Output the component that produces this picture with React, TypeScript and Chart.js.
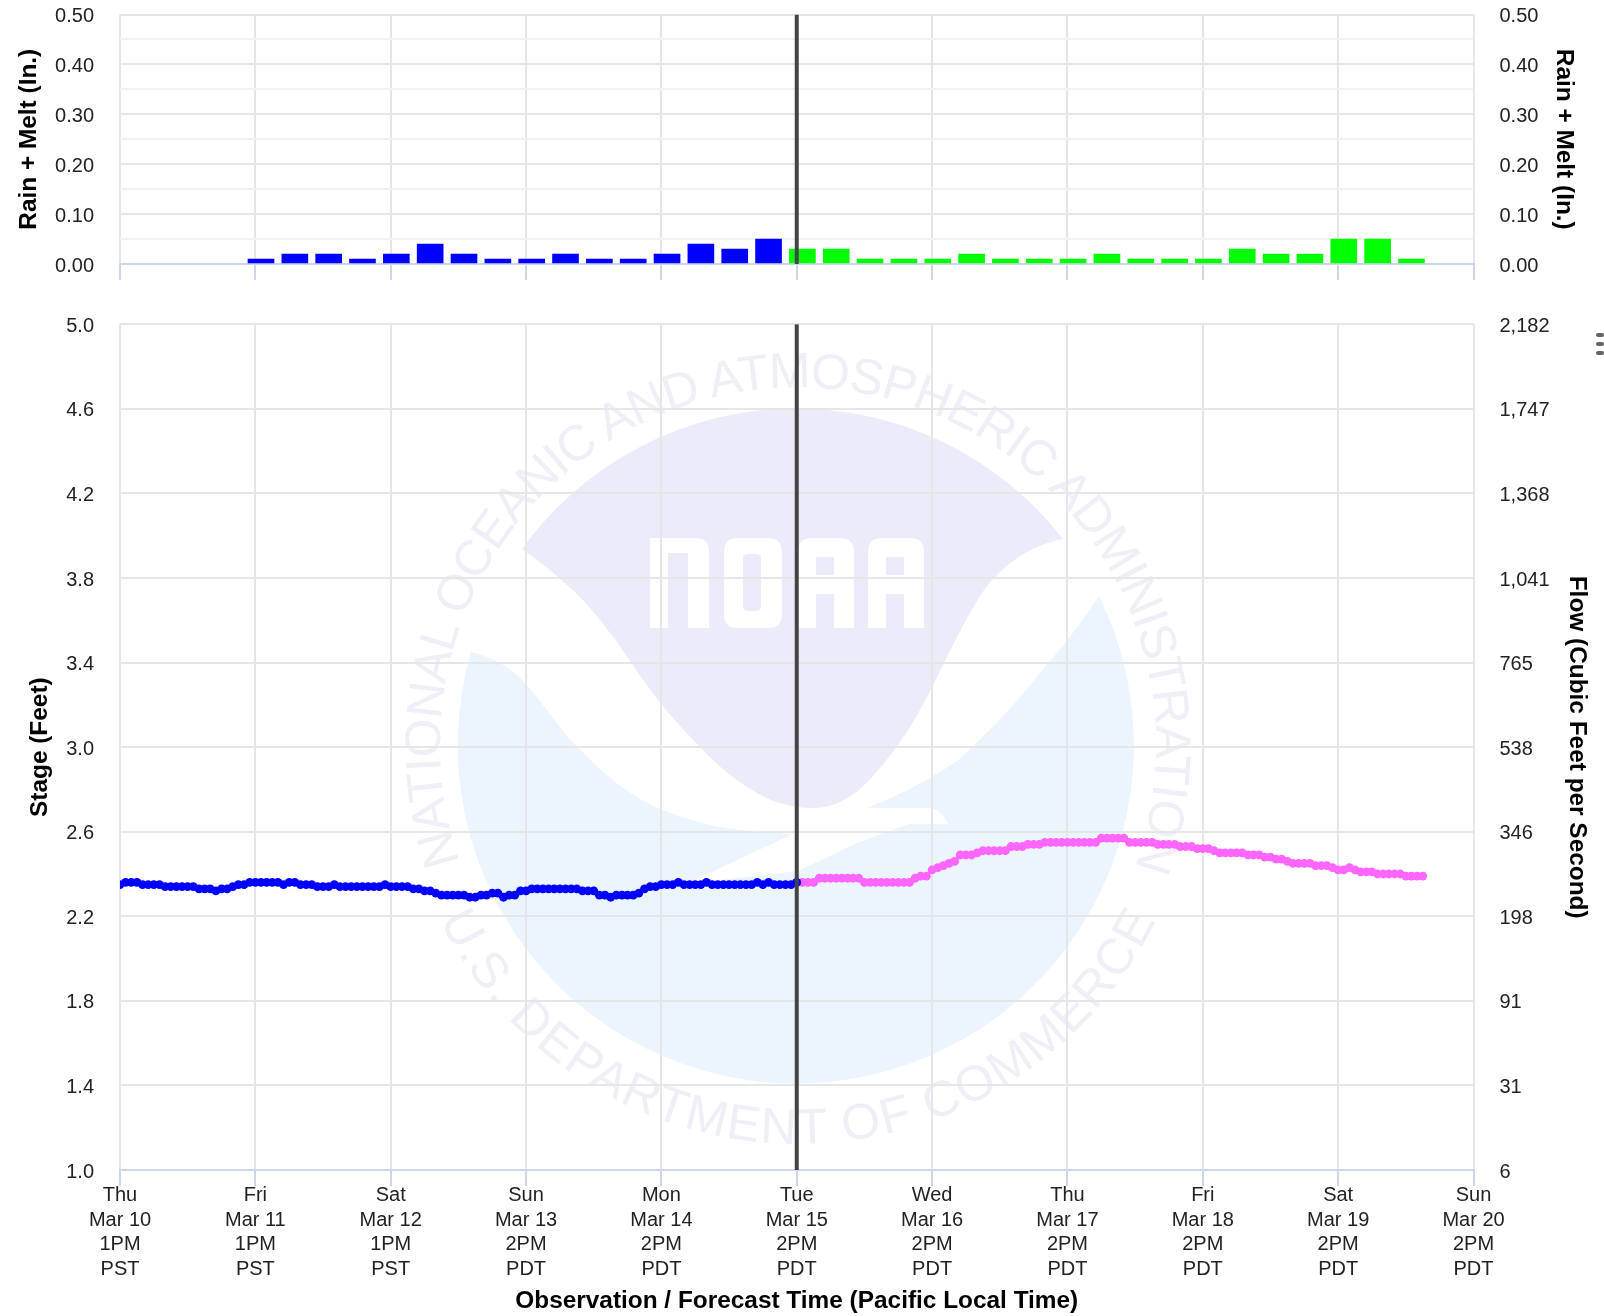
import React, { useEffect, useRef } from "react";
import { Chart, registerables } from "chart.js";

Chart.register(...registerables);

const FONT = "'Liberation Sans', Arial, sans-serif";

const dayLabels = [
  ["Thu", "Mar 10", "1PM", "PST"],
  ["Fri", "Mar 11", "1PM", "PST"],
  ["Sat", "Mar 12", "1PM", "PST"],
  ["Sun", "Mar 13", "2PM", "PDT"],
  ["Mon", "Mar 14", "2PM", "PDT"],
  ["Tue", "Mar 15", "2PM", "PDT"],
  ["Wed", "Mar 16", "2PM", "PDT"],
  ["Thu", "Mar 17", "2PM", "PDT"],
  ["Fri", "Mar 18", "2PM", "PDT"],
  ["Sat", "Mar 19", "2PM", "PDT"],
  ["Sun", "Mar 20", "2PM", "PDT"],
];
const flowLabels = ["6", "31", "91", "198", "346", "538", "765", "1,041", "1,368", "1,747", "2,182"];

const nowHour = 120;

const observedRainStart = 25;
const observedRain = [0.01, 0.02, 0.02, 0.01, 0.02, 0.04, 0.02, 0.01, 0.01, 0.02, 0.01, 0.01, 0.02, 0.04, 0.03, 0.05];
const forecastRainStart = 121;
const forecastRain = [0.03, 0.03, 0.01, 0.01, 0.01, 0.02, 0.01, 0.01, 0.01, 0.02, 0.01, 0.01, 0.01, 0.03, 0.02, 0.02, 0.05, 0.05, 0.01];

const observedStage = [
  2.35, 2.36, 2.36, 2.36, 2.35, 2.35, 2.35, 2.35, 2.34, 2.34,
  2.34, 2.34, 2.34, 2.34, 2.33, 2.33, 2.33, 2.32, 2.33, 2.33,
  2.34, 2.35, 2.35, 2.36, 2.36, 2.36, 2.36, 2.36, 2.36, 2.35,
  2.36, 2.36, 2.35, 2.35, 2.35, 2.34, 2.34, 2.34, 2.35, 2.34,
  2.34, 2.34, 2.34, 2.34, 2.34, 2.34, 2.34, 2.35, 2.34, 2.34,
  2.34, 2.34, 2.33, 2.33, 2.32, 2.32, 2.31, 2.30, 2.30, 2.30,
  2.30, 2.30, 2.29, 2.29, 2.30, 2.30, 2.31, 2.31, 2.29, 2.30,
  2.30, 2.32, 2.32, 2.33, 2.33, 2.33, 2.33, 2.33, 2.33, 2.33,
  2.33, 2.33, 2.32, 2.32, 2.32, 2.30, 2.30, 2.29, 2.30, 2.30,
  2.30, 2.30, 2.31, 2.33, 2.34, 2.34, 2.35, 2.35, 2.35, 2.36,
  2.35, 2.35, 2.35, 2.35, 2.36, 2.35, 2.35, 2.35, 2.35, 2.35,
  2.35, 2.35, 2.35, 2.36, 2.35, 2.36, 2.35, 2.35, 2.35, 2.35,
  2.36,
];
const forecastStageStart = 120;
const forecastStage = [
  2.36, 2.36, 2.36, 2.36, 2.38, 2.38, 2.38, 2.38, 2.38, 2.38,
  2.38, 2.38, 2.36, 2.36, 2.36, 2.36, 2.36, 2.36, 2.36, 2.36,
  2.36, 2.38, 2.39, 2.39, 2.42, 2.43, 2.44, 2.45, 2.46, 2.49,
  2.49, 2.49, 2.50, 2.51, 2.51, 2.51, 2.51, 2.51, 2.53, 2.53,
  2.53, 2.54, 2.54, 2.54, 2.55, 2.55, 2.55, 2.55, 2.55, 2.55,
  2.55, 2.55, 2.55, 2.55, 2.57, 2.57, 2.57, 2.57, 2.57, 2.55,
  2.55, 2.55, 2.55, 2.55, 2.54, 2.54, 2.54, 2.54, 2.53, 2.53,
  2.53, 2.52, 2.52, 2.52, 2.51, 2.50, 2.50, 2.50, 2.50, 2.50,
  2.49, 2.49, 2.49, 2.48, 2.48, 2.47, 2.47, 2.46, 2.45, 2.45,
  2.45, 2.45, 2.44, 2.44, 2.44, 2.43, 2.42, 2.42, 2.43, 2.42,
  2.41, 2.41, 2.41, 2.40, 2.40, 2.40, 2.40, 2.40, 2.39, 2.39,
  2.39, 2.39,
];

const toPoints = (values: number[], start: number, step: number) =>
  values.map((y, i) => ({ x: start + i * step, y }));

const GRID = "#e6e6e6";
const GRID_MINOR = "#f2f2f2";
const AXIS = "#ccd6eb";
const TEXT = "#222222";
const LEFT_W = 120;
const RIGHT_W = 130.5;

const fixWidth = (w: number) => (scale: any) => {
  scale.width = w;
  scale.paddingTop = 0;
  scale.paddingBottom = 0;
};
const fixHeight = (h: number) => (scale: any) => {
  scale.height = h;
};
const tickFont = { family: FONT, size: 20, lineHeight: 1.235 };
const titleFont = { family: FONT, size: 24.4, weight: "bold" as const, lineHeight: 1.2 };

function xScale(height: number, showLabels: boolean) {
  return {
    type: "linear" as const,
    min: 0,
    max: 240,
    offset: false,
    afterFit: fixHeight(height),
    grid: {
      offset: false,
      color: GRID,
      lineWidth: 2,
      tickColor: AXIS,
      tickLength: 16,
      tickWidth: 2,
      drawOnChartArea: true,
    },
    border: { color: AXIS, width: 2 },
    ticks: {
      display: showLabels,
      stepSize: 24,
      autoSkip: false,
      maxRotation: 0,
      padding: -3,
      color: TEXT,
      font: tickFont,
      callback: (_v: any, i: number) => dayLabels[i],
    },
    title: showLabels
      ? {
          display: true,
          text: "Observation / Forecast Time (Pacific Local Time)",
          color: "#000",
          font: titleFont,
          padding: { top: -2, bottom: 0 },
        }
      : { display: false },
  };
}

function yScale(opts: any) {
  return {
    type: "linear" as const,
    position: opts.position,
    min: opts.min,
    max: opts.max,
    afterFit: fixWidth(opts.position === "left" ? LEFT_W : RIGHT_W),
    grid: {
      display: opts.position === "left",
      drawTicks: false,
      color: opts.gridColor,
      lineWidth: 2,
    },
    border: { display: false },
    ticks: {
      stepSize: opts.step,
      autoSkip: false,
      padding: 26,
      labelOffset: 2,
      color: TEXT,
      font: tickFont,
      callback: opts.label,
    },
    title: {
      display: true,
      text: opts.title,
      color: "#000",
      font: titleFont,
      padding: { top: opts.titlePad, bottom: 0 },
    },
  };
}

const rainLabel = (v: any, i: number) => (i % 2 === 0 ? Number(v).toFixed(2) : "");
const rainGrid = (ctx: any) => (ctx.index % 2 === 0 ? GRID : GRID_MINOR);

function Watermark() {
  const lav = "#ebebfa";
  const blue = "#ecf5fd";
  const ring = "#eeeff7";
  const letterA =
    "M798 628 V552 Q798 538 812 538 H840 Q854 538 854 552 V628 H834 V594 H816 V628 Z M816 557 H834 V575 H816 Z";
  return (
    <svg
      width={1604}
      height={1316}
      style={{ position: "absolute", left: 0, top: 0 }}
    >
      <defs>
        <path id="ringTop" d="M459.5 862 A358 358 0 1 1 1134.4 868" fill="none" />
        <path id="ringBottom" d="M440 920 A398 398 0 0 0 1155.7 920" fill="none" />
      </defs>
      <path
        d="M522 549 A338 338 0 0 1 1063 539 C1035 544 1008 560 987 586 C973 605 962 628 951 649 C938 675 925 703 910 727 C895 750 878 773 859 790 C845 801 830 808 813 808 C790 808 772 802 757 793 C738 782 722 770 706 753 C688 735 672 718 655 696 C640 677 628 657 614 638 C600 620 585 600 568 586 C553 572 538 560 522 549 Z"
        fill={lav}
      />
      <path
        d="M471 652 A338 338 0 1 0 1099 596 C1080 625 1060 650 1038 675 C1015 705 990 730 961 758 C930 780 900 795 867 808 L931 808 C940 810 945 817 948 824 L910 824 L859 842 L798 871 L686 884 L793 834 L732 829 C710 826 690 820 670 813 C650 805 635 797 619 785 C600 770 585 755 568 737 C550 715 535 692 517 675 C503 663 488 656 471 652 Z"
        fill={blue}
      />
      <g fill="#ffffff" fillRule="evenodd">
        <path d="M650 538 H695 Q709 538 709 552 V628 H688 V553 H668 V628 H650 Z" />
        <path d="M738 538 H768 Q782 538 782 552 V614 Q782 628 768 628 H738 Q724 628 724 614 V552 Q724 538 738 538 Z M748 554 Q743 554 743 559 V606 Q743 611 748 611 H756 Q761 611 761 606 V559 Q761 554 756 554 Z" />
        <path d={letterA} />
        <path d={letterA} transform="translate(70 0)" />
      </g>
      <g fill={ring} fontFamily={FONT} fontSize={50}>
        <text>
          <textPath href="#ringTop" textLength={1368} lengthAdjust="spacing">
            NATIONAL OCEANIC AND ATMOSPHERIC ADMINISTRATION
          </textPath>
        </text>
        <text>
          <textPath href="#ringBottom" textLength={889} lengthAdjust="spacing">
            U.S. DEPARTMENT OF COMMERCE
          </textPath>
        </text>
      </g>
      <g fill="#666666">
        <rect x={1596} y={333} width={8} height={4} rx={2} />
        <rect x={1596} y={342} width={8} height={4} rx={2} />
        <rect x={1596} y={351} width={8} height={4} rx={2} />
      </g>
    </svg>
  );
}

export default function App() {
  const topRef = useRef<HTMLCanvasElement>(null);
  const mainRef = useRef<HTMLCanvasElement>(null);

  useEffect(() => {
    const marker = (min: number, max: number) => ({
      type: "line" as const,
      data: [
        { x: nowHour, y: min },
        { x: nowHour, y: max },
      ],
      yAxisID: "y",
      borderColor: "#444444",
      borderWidth: 4,
      pointRadius: 0,
      order: 0,
    });

    const top = new Chart(topRef.current!, {
      type: "bar",
      data: {
        datasets: [
          marker(0, 0.5),
          {
            type: "bar" as const,
            data: toPoints(observedRain, observedRainStart, 6),
            backgroundColor: "#0000ff",
            barThickness: 26,
            grouped: false,
            yAxisID: "y",
            order: 1,
          },
          {
            type: "bar" as const,
            data: toPoints(forecastRain, forecastRainStart, 6),
            backgroundColor: "#00ff00",
            barThickness: 26,
            grouped: false,
            yAxisID: "y",
            order: 1,
          },
        ] as any,
      },
      options: {
        responsive: false,
        animation: false,
        layout: { padding: { top: 14.5, left: 0, right: 0, bottom: 0 } },
        plugins: { legend: { display: false }, tooltip: { enabled: false } },
        scales: {
          x: xScale(36, false),
          y: yScale({
            position: "left",
            min: 0,
            max: 0.5,
            step: 0.05,
            label: rainLabel,
            gridColor: rainGrid,
            title: "Rain + Melt (In.)",
            titlePad: 14.4,
          }),
          yRight: yScale({
            position: "right",
            min: 0,
            max: 0.5,
            step: 0.05,
            label: rainLabel,
            gridColor: rainGrid,
            title: "Rain + Melt (In.)",
            titlePad: 25.4,
          }),
        } as any,
      },
    });

    const main = new Chart(mainRef.current!, {
      type: "line",
      data: {
        datasets: [
          marker(1, 5),
          {
            data: toPoints(observedStage, 0, 1),
            borderColor: "#0000ff",
            backgroundColor: "#0000ff",
            borderWidth: 3,
            pointRadius: 4.4,
            pointBorderWidth: 0,
            yAxisID: "y",
            order: 1,
          },
          {
            data: toPoints(forecastStage, forecastStageStart, 1),
            borderColor: "#ff66ff",
            backgroundColor: "#ff66ff",
            borderWidth: 3,
            pointRadius: 4.4,
            pointBorderWidth: 0,
            yAxisID: "y",
            order: 2,
          },
        ] as any,
      },
      options: {
        responsive: false,
        animation: false,
        layout: { padding: { top: 24.3, left: 0, right: 0, bottom: 0 } },
        plugins: { legend: { display: false }, tooltip: { enabled: false } },
        scales: {
          x: xScale(146, true),
          y: yScale({
            position: "left",
            min: 1,
            max: 5,
            step: 0.4,
            label: (v: any) => Number(v).toFixed(1),
            gridColor: GRID,
            title: "Stage (Feet)",
            titlePad: 25.4,
          }),
          yRight: yScale({
            position: "right",
            min: 1,
            max: 5,
            step: 0.4,
            label: (_v: any, i: number) => flowLabels[i],
            gridColor: GRID,
            title: "Flow (Cubic Feet per Second)",
            titlePad: 12.4,
          }),
        } as any,
      },
    });

    return () => {
      top.destroy();
      main.destroy();
    };
  }, []);

  return (
    <div style={{ position: "absolute", left: 0, top: 0, width: 1604, height: 1316, overflow: "hidden", background: "#fff" }}>
      <Watermark />
      <canvas ref={topRef} width={1604} height={300} style={{ position: "absolute", left: 0, top: 0, display: "block" }} />
      <canvas ref={mainRef} width={1604} height={1016} style={{ position: "absolute", left: 0, top: 300, display: "block" }} />
    </div>
  );
}
